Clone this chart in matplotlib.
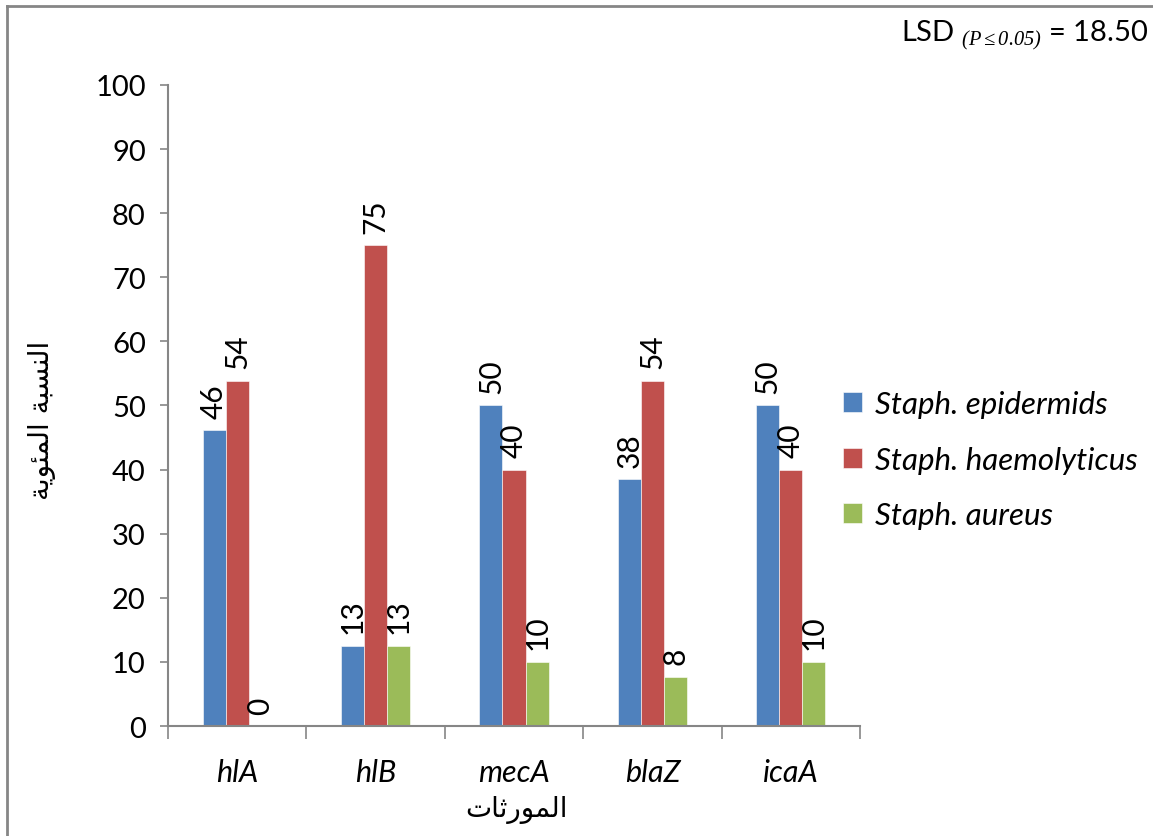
import numpy as np
import matplotlib.pyplot as plt
from matplotlib.lines import Line2D
from decimal import Decimal, ROUND_HALF_UP

genes = ["hlA", "hlB", "mecA", "blaZ", "icaA"]
species = ["Staph. epidermids", "Staph. haemolyticus", "Staph. aureus"]
epidermids = [46.15, 12.5, 50.0, 38.46, 50.0]
haemolyticus = [53.85, 75.0, 40.0, 53.85, 40.0]
aureus = [0.0, 12.5, 10.0, 7.69, 10.0]
colors = ["#4F81BD", "#C0504D", "#9BBB59"]

# arabic labels in visual (presentation-form) order, since matplotlib does no shaping
xlabel_ar = "\uFE95\uFE8E\uFE9B\uFEAD\uFEEE\uFEE4\uFEDF\uFE8D"  # المورثات
ylabel_ar = ("\uFE94\uFEF3\uFEEE\uFE8C\uFEE4\uFEDF\uFE8D" + " " +
             "\uFE94\uFE92\uFEB4\uFEE8\uFEDF\uFE8D")  # النسبة المئوية

plt.rcParams['font.family'] = ['Lato', 'DejaVu Sans']
plt.rcParams['mathtext.fontset'] = 'custom'
plt.rcParams['mathtext.rm'] = 'Liberation Serif:italic'
plt.rcParams['mathtext.it'] = 'Liberation Serif:italic'
grey = "#868686"
fs = 21

def lbl(v):
    return str(Decimal(str(v)).quantize(Decimal("1"), rounding=ROUND_HALF_UP))

fig = plt.figure(figsize=(11.53, 8.37), dpi=100)
ax = fig.add_axes([0.1457, 0.1314, 0.6002, 0.7659])

x = np.arange(len(genes))
w = 1 / 6
series = [epidermids, haemolyticus, aureus]
for i, vals in enumerate(series):
    pos = x + (i - 1) * w
    ax.bar(pos, vals, width=w, color=colors[i], edgecolor="white", linewidth=0.4,
           label=species[i])
    for p, v in zip(pos, vals):
        ax.annotate(lbl(v), (p, v), xytext=(0, 9), textcoords="offset points",
                    rotation=90, ha="center", va="bottom", fontsize=fs + 0.5)

ax.set_xlim(-0.5, len(genes) - 0.5)
ax.set_ylim(0, 100)
ax.set_yticks(range(0, 101, 10))
ax.tick_params(axis="y", labelsize=fs, length=6, width=1.2, color=grey, pad=10)
ax.set_xticks(np.arange(-0.5, len(genes), 1))
ax.set_xticklabels([])
ax.tick_params(axis="x", length=9, width=1.2, color=grey)
for g, xi in zip(genes, x):
    ax.text(xi, -7.2, g, ha="center", va="center", fontsize=fs + 1, style="italic")
for s in ["top", "right"]:
    ax.spines[s].set_visible(False)
for s in ["left", "bottom"]:
    ax.spines[s].set_color(grey)
    ax.spines[s].set_linewidth(1.5)

fig.text(0.448, 0.032, xlabel_ar, ha="center", va="center", fontsize=20,
         family="DejaVu Sans")
fig.text(0.036, 0.498, ylabel_ar, ha="center", va="center", rotation=90,
         fontsize=20, family="DejaVu Sans")

fig.text(0.996, 0.958, r"LSD $_{(P \leq 0.05)}$ = 18.50",
         ha="right", va="center", fontsize=fs)

leg = fig.legend(loc="upper left", bbox_to_anchor=(0.707, 0.566), frameon=False,
                 prop={"size": 22.5, "style": "italic"}, handlelength=0.6,
                 handleheight=0.6, handletextpad=0.4, labelspacing=0.88)

# chart border
fig.add_artist(Line2D([0.0065, 0.0065], [0, 0.9916], color=grey, lw=2,
                      transform=fig.transFigure))
fig.add_artist(Line2D([0.0065, 1], [0.9916, 0.9916], color=grey, lw=2,
                      transform=fig.transFigure))

fig.savefig("out.png", dpi=100)
